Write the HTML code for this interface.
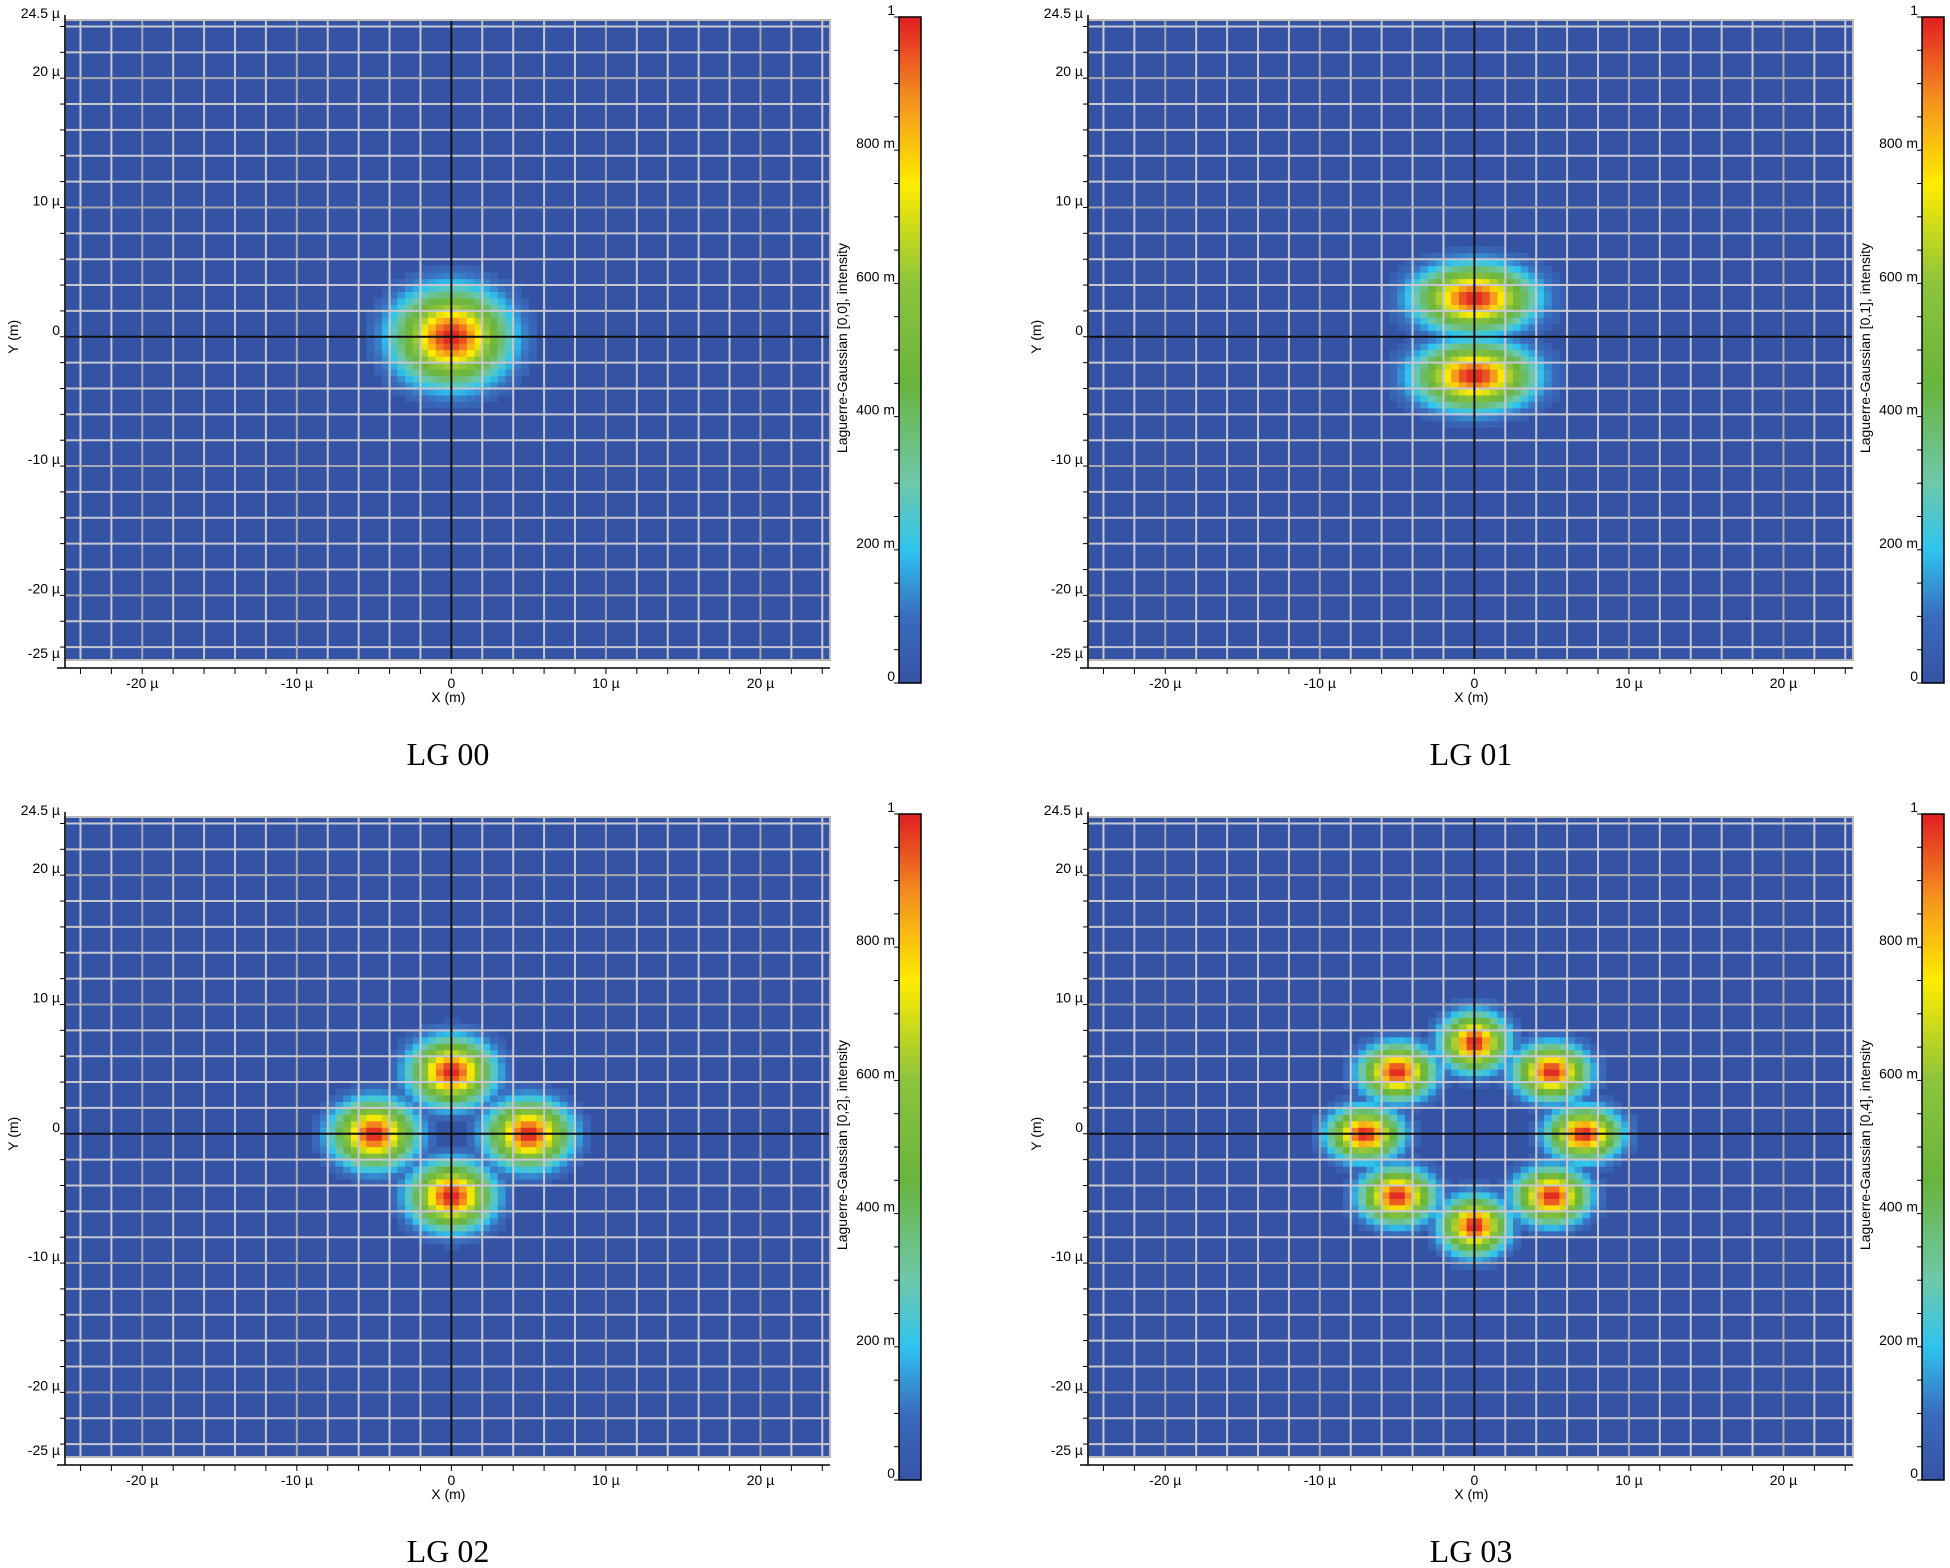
<!DOCTYPE html>
<html><head><meta charset="utf-8"><style>
html,body{margin:0;padding:0;background:#fff;width:1950px;height:1568px;overflow:hidden}
svg{display:block}
text{font-family:"Liberation Sans",sans-serif}
</style></head><body>
<svg id="root" width="1950" height="1568" xmlns="http://www.w3.org/2000/svg"></svg>
<script>
// Panel data: lobes as [x µm, y µm, amplitude, sigmaX µm, sigmaY µm]
const panelTitles = ["LG 00", "LG 01", "LG 02", "LG 03"];
const panelIndexLabels = ["[0,0]", "[0,1]", "[0,2]", "[0,4]"];
const lobesLG00 = [[0, 0, 1.0, 3.3, 3.3]];
const lobesLG01 = [[0, 3.0, 1.0, 3.4, 2.3], [0, -3.0, 1.0, 3.4, 2.3]];
const lobesLG02 = [[0, 4.8, 1.0, 2.4, 2.3], [0, -4.8, 1.0, 2.4, 2.3], [5.0, 0, 1.0, 2.4, 2.3], [-5.0, 0, 1.0, 2.4, 2.3]];
const lobesLG03 = [[7.1, 0, 1, 2.1, 1.8], [5.0, 4.8, 1, 2.1, 1.9], [0, 7.1, 1, 1.9, 2.0], [-5.0, 4.8, 1, 2.1, 1.9],
                   [-7.1, 0, 1, 2.1, 1.8], [-5.0, -4.8, 1, 2.1, 1.9], [0, -7.1, 1, 1.9, 2.0], [5.0, -4.8, 1, 2.1, 1.9]];
const panelLobes = [lobesLG00, lobesLG01, lobesLG02, lobesLG03];
const xTickValues = [-20, -10, 0, 10, 20];
const xTickLabels = ["-20 µ", "-10 µ", "0", "10 µ", "20 µ"];
const yTickValues = [24.5, 20, 10, 0, -10, -20, -25];
const yTickLabels = ["24.5 µ", "20 µ", "10 µ", "0", "-10 µ", "-20 µ", "-25 µ"];
const cbTickValues = [0, 0.2, 0.4, 0.6, 0.8, 1];
const cbTickLabels = ["0", "200 m", "400 m", "600 m", "800 m", "1"];

const NS = "http://www.w3.org/2000/svg";
const root = document.getElementById("root");
function mk(tag, attrs, parent) {
  const e = document.createElementNS(NS, tag);
  for (const k in attrs) e.setAttribute(k, attrs[k]);
  (parent || root).appendChild(e);
  return e;
}
const stops = [[0, [53, 83, 165]], [0.1, [58, 108, 190]], [0.2, [46, 196, 239]], [0.3, [110, 200, 170]],
  [0.45, [104, 180, 60]], [0.6, [140, 196, 60]], [0.75, [255, 236, 0]], [0.87, [245, 150, 30]], [1, [225, 30, 35]]];
function cmap(v) {
  v = Math.max(0, Math.min(1, v));
  for (let i = 1; i < stops.length; i++) {
    if (v <= stops[i][0]) {
      const a = stops[i - 1], b = stops[i], t = (v - a[0]) / (b[0] - a[0]);
      return "rgb(" + [0, 1, 2].map(j => Math.round(a[1][j] + t * (b[1][j] - a[1][j]))).join(",") + ")";
    }
  }
  return "rgb(225,30,35)";
}
const offsets = [[0, 0], [1023, 0], [0, 797], [1023, 797]];
const X0 = 65, X1 = 830, Y0 = 20, Y1 = 660, XMIN = -25, XMAX = 24.5, YMIN = -25, YMAX = 24.5;
const defs = mk("defs", {});
const grad = mk("linearGradient", {id: "cbg", x1: 0, y1: 1, x2: 0, y2: 0}, defs);
stops.forEach(s => mk("stop", {offset: s[0], "stop-color": cmap(s[0])}, grad));

panelLobes.forEach((lobes, p) => {
  const [ox, oy] = offsets[p];
  const g = mk("g", {transform: `translate(${ox},${oy})`});
  
  
  const sx = v => X0 + (v - XMIN) / (XMAX - XMIN) * (X1 - X0);
  const sy = v => Y0 + (YMAX - v) / (YMAX - YMIN) * (Y1 - Y0);
  const bg = mk("rect", {x: X0, y: Y0, width: X1 - X0, height: Y1 - Y0, fill: "rgb(53,83,165)"}, g);
  
  
  const cells = mk("g", {}, g);
  
  
  const step = 0.5;
  for (let x = -14; x < 14; x += step) for (let y = -14; y < 14; y += step) {
    const cx = x + step / 2, cy = y + step / 2;
    let v = 0;
    lobes.forEach(l => { v = Math.max(v, l[2] * Math.exp(-(((cx - l[0]) / l[3]) ** 2 + ((cy - l[1]) / l[4]) ** 2))); });
    if (v < 0.05) continue;
    mk("rect", {x: sx(x), y: sy(y + step), width: sx(x + step) - sx(x) + 0.5, height: sy(y) - sy(y + step) + 0.5, fill: cmap(v)}, cells);
  }
  const grid = mk("g", {}, g);
  
  
  for (let v = -24; v <= 24; v += 2) {
    if (v === 0) continue;
    const col = v % 10 === 0 ? "#a8a8b0" : "#c8c8d0";
    mk("line", {x1: sx(v), x2: sx(v), y1: Y0, y2: Y1, stroke: col, "stroke-width": 2}, grid);
    mk("line", {x1: X0, x2: X1, y1: sy(v), y2: sy(v), stroke: col, "stroke-width": 2}, grid);
  }
  mk("line", {x1: sx(0), x2: sx(0), y1: Y0, y2: Y1, stroke: "#111", "stroke-width": 2}, grid);
  mk("line", {x1: X0, x2: X1, y1: sy(0), y2: sy(0), stroke: "#111", "stroke-width": 2}, grid);
  mk("rect", {x: X0, y: Y0, width: X1 - X0, height: Y1 - Y0, fill: "none", stroke: "#bbb", "stroke-width": 2}, grid);
  mk("line", {x1: X0, x2: X0, y1: Y0 - 5, y2: Y1 + 8, stroke: "#000", "stroke-width": 1.5}, g);
  mk("line", {x1: X0 - 8, x2: X1, y1: Y1 + 8, y2: Y1 + 8, stroke: "#000", "stroke-width": 1.5}, g);
  for (let v = -24; v <= 24; v += 2) {
    mk("line", {x1: sx(v), x2: sx(v), y1: Y1 + 8, y2: Y1 + 14, stroke: "#000"}, g);
    mk("line", {x1: X0 - 5, x2: X0, y1: sy(v), y2: sy(v), stroke: "#000"}, g);
  }
  xTickValues.forEach((v, i) => {
    const t = mk("text", {x: sx(v), y: Y1 + 28, "font-size": 14, "text-anchor": "middle", fill: "#000"}, g);
    t.textContent = xTickLabels[i];
    
    
  });
  yTickValues.forEach((v, i) => {
    const t = mk("text", {x: X0 - 5, y: sy(v) - 2, "font-size": 14, "text-anchor": "end", fill: "#000"}, g);
    t.textContent = yTickLabels[i];
    
    
  });
  const xt = mk("text", {x: sx(0) - 3, y: Y1 + 42, "font-size": 14, "text-anchor": "middle"}, g);
  xt.textContent = "X (m)";
  
  
  const yt = mk("text", {x: 0, y: 0, "font-size": 14, "text-anchor": "middle", transform: `translate(18,${sy(0)}) rotate(-90)`}, g);
  yt.textContent = "Y (m)";
  
  
  const CB0 = 17, CB1 = 683, CBX = 899, CBW = 22;
  const cb = mk("rect", {x: CBX, y: CB0, width: CBW, height: CB1 - CB0, fill: "url(#cbg)", stroke: "#000", "stroke-width": 1.5}, g);
  
  
  const cy = v => CB1 - v * (CB1 - CB0);
  for (let v = 0; v <= 1.0001; v += 0.05) mk("line", {x1: CBX - 5, x2: CBX, y1: cy(v), y2: cy(v), stroke: "#000"}, g);
  cbTickValues.forEach((v, i) => {
    const t = mk("text", {x: CBX - 4, y: cy(v) - 2, "font-size": 14, "text-anchor": "end"}, g);
    t.textContent = cbTickLabels[i];
    
    
  });
  const ct = mk("text", {x: 0, y: 0, "font-size": 14, "text-anchor": "middle", transform: `translate(847,348) rotate(-90)`}, g);
  ct.textContent = "Laguerre-Gaussian " + panelIndexLabels[p] + ", intensity";
  
  
  const tt = mk("text", {x: 448, y: 765, "font-size": 32, "text-anchor": "middle", style: 'font-family:"Liberation Serif",serif'}, g);
  tt.textContent = panelTitles[p];
  
  
});
</script>
</body></html>
